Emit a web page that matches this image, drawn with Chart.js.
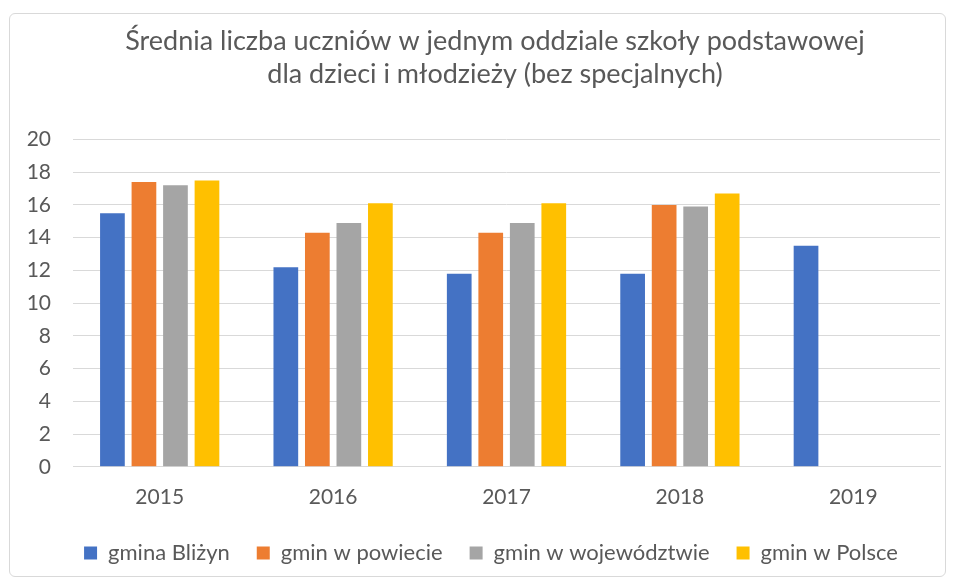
<!DOCTYPE html>
<html>
<head>
<meta charset="utf-8">
<script src="https://cdn.jsdelivr.net/npm/chart.js@4.4.0/dist/chart.umd.min.js"></script>
<style>
  html, body { margin: 0; padding: 0; background: #fff; }
  #box {
    position: absolute; left: 9px; top: 13px; width: 937px; height: 564px;
    border: 1px solid #d9d9d9; border-radius: 6px; box-sizing: border-box;
  }
  canvas { display: block; }
</style>
</head>
<body>
<div id="box"><canvas id="chart"></canvas></div>
<script>
// Dane wykresu
const years = ['2015', '2016', '2017', '2018', '2019'];
const gminaBlizyn = [15.5, 12.2, 11.8, 11.8, 13.5];
const gminPowiat = [17.4, 14.3, 14.3, 16.0, null];
const gminWojewodztwo = [17.2, 14.9, 14.9, 15.9, null];
const gminPolska = [17.5, 16.1, 16.1, 16.7, null];
const yTicks = [0, 2, 4, 6, 8, 10, 12, 14, 16, 18, 20];

const seriesNames = ['gmina Bliżyn', 'gmin w powiecie', 'gmin w województwie', 'gmin w Polsce'];
const seriesColors = ['#4472c4', '#ed7d31', '#a5a5a5', '#ffc000'];
const seriesData = [gminaBlizyn, gminPowiat, gminWojewodztwo, gminPolska];

const fontFamily = 'Lato, "Open Sans", sans-serif';
const textColor = '#595959';

// przesunięcie tytułu i legendy (jak w Excelu)
const shiftPlugin = {
    id: 'shift',
    afterLayout(chart) {
        chart.titleBlock.left += 20;
        chart.titleBlock.right += 20;
        chart.legend.left += 16;
        chart.legend.right += 16;
        chart.legend.top -= 5;
        chart.legend.bottom -= 5;
    }
};

const ctx = document.getElementById('chart').getContext('2d');

new Chart(ctx, {
    type: 'bar',
    data: {
        labels: years,
        datasets: seriesData.map((d, i) => ({
            label: seriesNames[i],
            data: d,
            backgroundColor: seriesColors[i],
            borderWidth: 0,
            categoryPercentage: 0.727,
            barPercentage: 0.784
        }))
    },
    options: {
        responsive: true,
        maintainAspectRatio: false,
        animation: false,
        layout: {
            padding: { left: 0, right: 5, top: 0, bottom: -3 }
        },
        plugins: {
            title: {
                display: true,
                text: ['Średnia liczba uczniów w jednym oddziale szkoły podstawowej', 'dla dzieci i młodzieży (bez specjalnych)'],
                color: textColor,
                font: { family: fontFamily, size: 27, weight: 'normal', lineHeight: 1.25 },
                padding: { top: 10, bottom: 48 }
            },
            legend: {
                position: 'bottom',
                labels: {
                    color: textColor,
                    font: { family: fontFamily, size: 22 },
                    boxWidth: 13,
                    boxHeight: 13,
                    padding: 27
                }
            },
            tooltip: { enabled: false }
        },
        scales: {
            x: {
                grid: { display: false },
                border: { color: '#d9d9d9', width: 1 },
                ticks: {
                    color: textColor,
                    font: { family: fontFamily, size: 21 },
                    padding: 10
                }
            },
            y: {
                min: 0,
                max: 20,
                afterBuildTicks: (scale) => {
                    scale.ticks = yTicks.map(v => ({ value: v }));
                },
                afterFit: (scale) => {
                    scale.width = 63;
                },
                grid: { color: '#d9d9d9', lineWidth: 1, drawTicks: false },
                border: { display: false },
                ticks: {
                    color: textColor,
                    font: { family: fontFamily, size: 21 },
                    padding: 22
                }
            }
        }
    },
    plugins: [shiftPlugin]
});
</script>
</body>
</html>
